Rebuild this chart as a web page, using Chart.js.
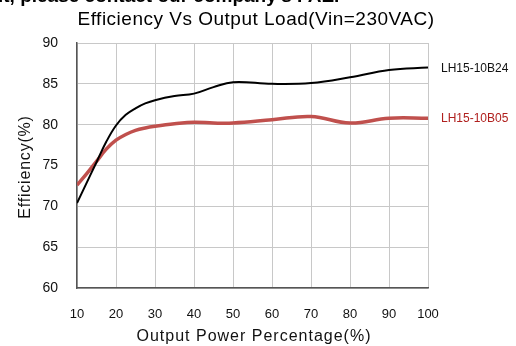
<!DOCTYPE html>
<html><head><meta charset="utf-8">
<script src="https://cdn.jsdelivr.net/npm/chart.js@4/dist/chart.umd.min.js"></script>
<style>html,body{margin:0;padding:0;background:#fff;}#wrap{width:516px;height:346px;position:relative;}</style>
</head><body><div id="wrap"><canvas id="c" width="516" height="346"></canvas></div>
<script>
const loads = [10, 12.5, 15, 17.5, 20, 22.5, 25, 27.5, 30, 35, 40, 45, 50, 60, 70, 80, 90, 100];
const lh15_10b24 = [70.4, 72.9, 75.4, 77.9, 79.9, 81.2, 82.0, 82.6, 83.0, 83.5, 83.8, 84.6, 85.2, 85.0, 85.1, 85.8, 86.7, 87.0];
const lh15_10b05 = [72.6, 74.0, 75.5, 77.0, 78.1, 78.8, 79.3, 79.6, 79.8, 80.1, 80.3, 80.2, 80.2, 80.6, 81.0, 80.2, 80.8, 80.8];
const seriesNames = ['LH15-10B24', 'LH15-10B05'];
const xTicks = [10, 20, 30, 40, 50, 60, 70, 80, 90, 100];
const yTicks = [60, 65, 70, 75, 80, 85, 90];
const titleText = 'Efficiency Vs Output Load(Vin=230VAC)';
const xTitle = 'Output Power Percentage(%)';
const yTitle = 'Efficiency(%)';
const topText = "it, please contact our company's FAE.";

const FONT = "'Liberation Sans', sans-serif";
const toPts = (ys) => ys.map((y, i) => ({x: loads[i], y}));

const labelPlugin = {
  id: 'labels',
  afterDraw(chart) {
    const ctx = chart.ctx;
    ctx.save();
    ctx.fillStyle = '#000';
    ctx.font = "bold 19px " + FONT;
    ctx.textBaseline = 'alphabetic';
    ctx.textAlign = 'left';
    ctx.letterSpacing = '0px';
    ctx.fillText(topText, -2, 2);
    ctx.font = "19px " + FONT;
    ctx.letterSpacing = '0.5px';
    ctx.textAlign = 'center';
    ctx.textBaseline = 'middle';
    ctx.fillText(titleText, 256, 20);
    ctx.font = "16px " + FONT;
    ctx.letterSpacing = '1px';
    ctx.fillStyle = '#111';
    ctx.fillText(xTitle, 254, 337);
    ctx.save();
    ctx.translate(26, 167);
    ctx.rotate(-Math.PI / 2);
    ctx.letterSpacing = '0.8px';
    ctx.fillText(yTitle, 0, 0);
    ctx.restore();
    ctx.letterSpacing = '0px';
    ctx.font = "12px " + FONT;
    ctx.textAlign = 'left';
    const colors = ['#111', '#b0201e'];
    chart.data.datasets.forEach((ds, i) => {
      const meta = chart.getDatasetMeta(i);
      const last = meta.data[meta.data.length - 1];
      ctx.fillStyle = colors[i];
      ctx.fillText(ds.label, chart.chartArea.right + 13, last.y + 1);
    });
    ctx.restore();
  }
};

new Chart(document.getElementById('c'), {
  type: 'line',
  data: {
    datasets: [
      {label: seriesNames[0], data: toPts(lh15_10b24), borderColor: '#000', borderWidth: 2, pointRadius: 0, tension: 0.4},
      {label: seriesNames[1], data: toPts(lh15_10b05), borderColor: '#c0504d', borderWidth: 3.5, pointRadius: 0, tension: 0.4}
    ]
  },
  options: {
    responsive: false,
    animation: false,
    layout: {padding: {top: 43, right: 88, left: 0, bottom: 0}},
    plugins: {legend: {display: false}, tooltip: {enabled: false}, title: {display: false}},
    scales: {
      x: {
        type: 'linear', min: 10, max: 100,
        afterBuildTicks: (s) => { s.ticks = xTicks.map(v => ({value: v})); },
        afterFit: (s) => { s.height = 58; },
        grid: {color: '#c8c8c8', drawTicks: false, lineWidth: 1},
        border: {color: '#555', width: 1.5},
        ticks: {padding: 19, color: '#111', font: {family: FONT, size: 13}, maxRotation: 0},
        title: {display: false}
      },
      y: {
        min: 60, max: 90,
        afterBuildTicks: (s) => { s.ticks = yTicks.map(v => ({value: v})); },
        afterFit: (s) => { s.width = 77; },
        grid: {color: '#c8c8c8', drawTicks: false, lineWidth: 1},
        border: {color: '#555', width: 1.5},
        ticks: {padding: 19, color: '#111', font: {family: FONT, size: 14}},
        title: {display: false}
      }
    }
  },
  plugins: [labelPlugin]
});
</script></body></html>
